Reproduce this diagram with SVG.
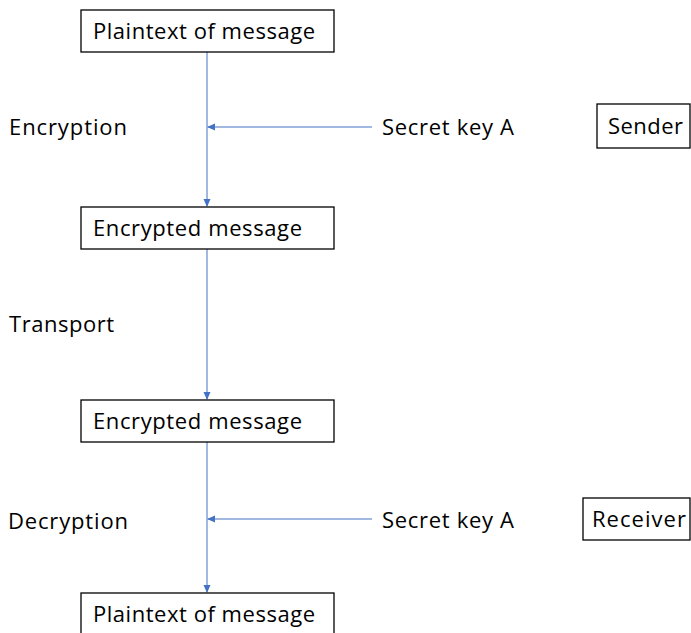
<svg xmlns="http://www.w3.org/2000/svg" width="691" height="633" viewBox="0 0 691 633">
  <style>
    .box { fill: #ffffff; stroke: #000000; stroke-width: 1.3; }
    .t { font-family: "Open Sans", "Liberation Sans", sans-serif; font-size: 22px; fill: #000000; }
    .conn { stroke: #4472C4; stroke-width: 1; fill: none; marker-end: url(#arrow); }
  </style>
  <defs>
    <marker id="arrow" markerWidth="8" markerHeight="8" refX="7" refY="4" orient="auto" markerUnits="userSpaceOnUse">
      <path d="M0,0.5 L8,4 L0,7.5 Z" fill="#4472C4"/>
    </marker>
  </defs>
  <rect width="691" height="633" fill="#ffffff"/>

  <g id="connectors">
    <line class="conn" x1="207" y1="52" x2="207" y2="206"/>
    <line class="conn" x1="207" y1="249" x2="207" y2="399"/>
    <line class="conn" x1="207" y1="442" x2="207" y2="592"/>
    <line class="conn" x1="372" y1="127" x2="208" y2="127"/>
    <line class="conn" x1="372" y1="519" x2="208" y2="519"/>
  </g>

  <g id="plaintext-top">
    <rect class="box" x="81" y="10" width="253" height="42"/>
    <text class="t" x="93" y="39" textLength="222">Plaintext of message</text>
  </g>
  <g id="encrypted-1">
    <rect class="box" x="81" y="207" width="253" height="42"/>
    <text class="t" x="93" y="236" textLength="209">Encrypted message</text>
  </g>
  <g id="encrypted-2">
    <rect class="box" x="81" y="400" width="253" height="42"/>
    <text class="t" x="93" y="429" textLength="209">Encrypted message</text>
  </g>
  <g id="plaintext-bottom">
    <rect class="box" x="81" y="593" width="253" height="45"/>
    <text class="t" x="93" y="622" textLength="222">Plaintext of message</text>
  </g>

  <g id="label-encryption"><text class="t" x="9" y="135" textLength="118">Encryption</text></g>
  <g id="label-transport"><text class="t" x="9" y="332" textLength="105">Transport</text></g>
  <g id="label-decryption"><text class="t" x="8" y="529" textLength="120">Decryption</text></g>

  <g id="key-sender"><text class="t" x="382" y="135" textLength="132">Secret key A</text></g>
  <g id="key-receiver"><text class="t" x="382" y="528" textLength="132">Secret key A</text></g>

  <g id="sender">
    <rect class="box" x="597" y="104" width="93" height="44"/>
    <text class="t" x="608" y="134" textLength="75">Sender</text>
  </g>
  <g id="receiver">
    <rect class="box" x="583" y="498" width="107" height="42"/>
    <text class="t" x="592" y="527" textLength="94">Receiver</text>
  </g>
</svg>
